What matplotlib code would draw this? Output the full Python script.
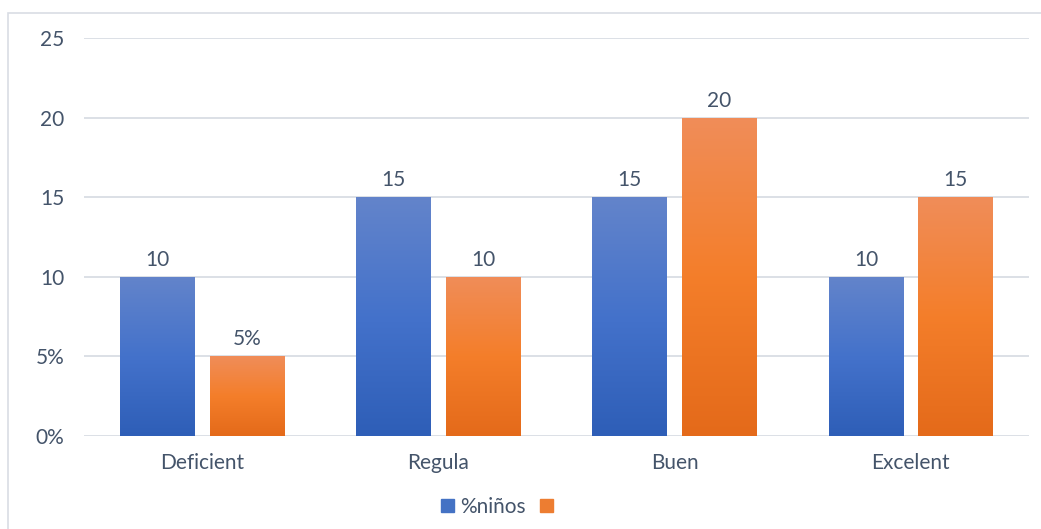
import numpy as np
import matplotlib
matplotlib.use("Agg")
import matplotlib.pyplot as plt
from matplotlib.colors import LinearSegmentedColormap
from matplotlib.patches import Rectangle

categories = ["Deficient", "Regula", "Buen", "Excelent"]
ninos = [10, 15, 15, 10]
otros = [5, 10, 20, 15]
ninos_labels = ["10", "15", "15", "10"]
otros_labels = ["5%", "10", "20", "15"]
ytick_vals = [0, 5, 10, 15, 20, 25]
ytick_labels = ["0%", "5%", "10", "15", "20", "25"]
series_names = ["%niños", ""]

TEXT = "#44546A"
GRID = "#D9DDE4"
FS = 15

plt.rcParams["font.family"] = ["Lato", "DejaVu Sans"]

fig = plt.figure(figsize=(10.41, 5.29), dpi=100)
ax = fig.add_axes([84 / 1041, 1 - 436 / 529, 945 / 1041, 398 / 529])

# outer chart border (only left and top visible in the crop)
fig.patches.append(Rectangle((8 / 1041, -0.2), 1.2, 1.2 - 13 / 529,
                             transform=fig.transFigure, fill=False,
                             edgecolor="#D9DDE4", linewidth=1.2, zorder=0))

x = np.arange(len(categories))
w = 0.317
off = 0.19

blue_cmap = LinearSegmentedColormap.from_list("b", ["#2E5EB7", "#4472CB", "#6384CA"])
orange_cmap = LinearSegmentedColormap.from_list("o", ["#E46A1A", "#F47E2A", "#F08D59"])

bars1 = ax.bar(x - off, ninos, w, color="#4472C4", zorder=2, label=series_names[0])
bars2 = ax.bar(x + off, otros, w, color="#ED7D31", zorder=2, label=series_names[1])

grad = np.linspace(0, 1, 256).reshape(-1, 1)
for bars, cmap in [(bars1, blue_cmap), (bars2, orange_cmap)]:
    for b in bars:
        x0, y0 = b.get_x(), b.get_y()
        x1, y1 = x0 + b.get_width(), y0 + b.get_height()
        im = ax.imshow(grad, cmap=cmap, origin="lower", aspect="auto",
                       extent=[x0, x1, y0, y1], zorder=3)
        im.set_clip_path(b)
        b.set_facecolor("none")

for bars, labs in [(bars1, ninos_labels), (bars2, otros_labels)]:
    for b, lab in zip(bars, labs):
        ax.annotate(lab, (b.get_x() + b.get_width() / 2, b.get_height()),
                    xytext=(0, 5), textcoords="offset points",
                    ha="center", va="bottom", fontsize=FS, color=TEXT)

ax.set_xlim(-0.5, len(categories) - 0.5)
ax.set_ylim(0, 25)
ax.set_yticks(ytick_vals)
ax.set_yticklabels(ytick_labels)
ax.set_xticks(x)
ax.set_xticklabels(categories)
ax.tick_params(axis="y", length=0, pad=14, labelsize=FS, labelcolor=TEXT)
ax.tick_params(axis="x", length=0, pad=12, labelsize=FS, labelcolor=TEXT)
ax.yaxis.grid(True, color=GRID, linewidth=1.3, zorder=0)
ax.set_axisbelow(True)
for s in ax.spines.values():
    s.set_visible(False)

handles = [Rectangle((0, 0), 1, 1, color="#4472C4"), Rectangle((0, 0), 1, 1, color="#ED7D31")]
fig.legend(handles, series_names, loc="center", bbox_to_anchor=(500 / 1041, 1 - 507 / 529),
           ncol=2, frameon=False, fontsize=FS, labelcolor=TEXT,
           handlelength=0.6, handleheight=0.6, handletextpad=0.3, columnspacing=0.7)

fig.savefig("out.png", dpi=100)
